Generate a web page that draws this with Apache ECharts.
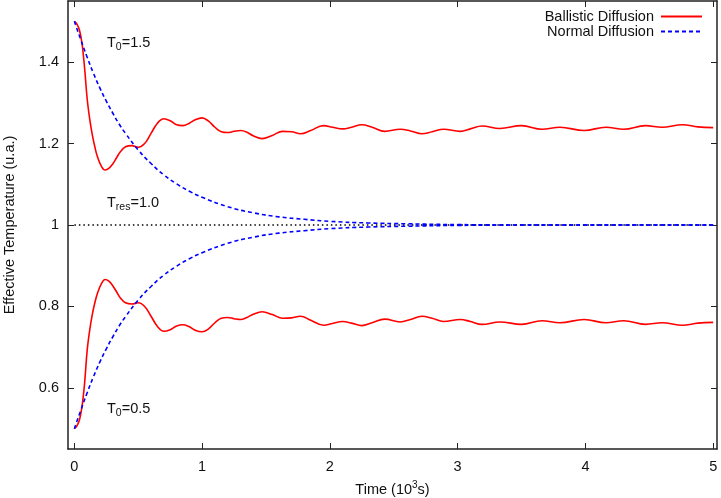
<!DOCTYPE html>
<html>
<head>
<meta charset="utf-8">
<script src="https://cdn.jsdelivr.net/npm/echarts@6/dist/echarts.min.js"></script>
<style>
html, body { margin: 0; padding: 0; background: #fff; }
#main { width: 721px; height: 498px; }
</style>
</head>
<body>
<div id="main"></div>
<script>
// time axis, 10^3 s
var ballisticT = [0, 0.02, 0.04, 0.06, 0.08, 0.10, 0.12, 0.14, 0.16, 0.18,
	0.21, 0.24, 0.27, 0.30, 0.33, 0.36, 0.40, 0.45, 0.50, 0.55,
	0.60, 0.65, 0.70, 0.75, 0.80, 0.85, 0.90, 0.95, 1.00, 1.05,
	1.10, 1.15, 1.20, 1.25, 1.30, 1.35, 1.40, 1.47, 1.55, 1.63,
	1.70, 1.77, 1.85, 1.95, 2.02, 2.10, 2.17, 2.25, 2.33, 2.43,
	2.55, 2.63, 2.72, 2.80, 2.89, 3.02, 3.10, 3.19, 3.33, 3.50,
	3.66, 3.80, 3.99, 4.16, 4.30, 4.47, 4.60, 4.76, 4.88, 5.00];
// T0 = 1.5
var ballisticHot = [1.500, 1.493, 1.478, 1.445, 1.385, 1.310, 1.260, 1.222, 1.192, 1.168,
	1.145, 1.135, 1.139, 1.150, 1.165, 1.180, 1.192, 1.195, 1.191, 1.200,
	1.225, 1.250, 1.261, 1.256, 1.246, 1.244, 1.250, 1.259, 1.263, 1.255,
	1.240, 1.229, 1.227, 1.230, 1.232, 1.228, 1.219, 1.212, 1.220, 1.230,
	1.229, 1.224, 1.232, 1.244, 1.240, 1.236, 1.240, 1.246, 1.240, 1.230,
	1.235, 1.231, 1.224, 1.229, 1.235, 1.230, 1.236, 1.243, 1.237, 1.244,
	1.235, 1.240, 1.232, 1.240, 1.235, 1.244, 1.240, 1.246, 1.241, 1.239];
// T0 = 0.5
var ballisticCold = [0.500, 0.507, 0.522, 0.555, 0.612, 0.692, 0.742, 0.780, 0.809, 0.832,
	0.855, 0.866, 0.862, 0.851, 0.836, 0.821, 0.809, 0.806, 0.809, 0.800,
	0.776, 0.751, 0.739, 0.743, 0.752, 0.755, 0.750, 0.741, 0.738, 0.745,
	0.760, 0.771, 0.773, 0.770, 0.768, 0.773, 0.781, 0.787, 0.780, 0.771,
	0.772, 0.776, 0.766, 0.754, 0.758, 0.763, 0.759, 0.753, 0.760, 0.769,
	0.762, 0.768, 0.776, 0.771, 0.763, 0.768, 0.763, 0.756, 0.762, 0.756,
	0.765, 0.760, 0.768, 0.760, 0.765, 0.756, 0.760, 0.754, 0.759, 0.761];

var normalT = [0, 0.05, 0.1, 0.15, 0.2, 0.25, 0.3, 0.35, 0.4, 0.5,
	0.6, 0.7, 0.8, 0.9, 1.0, 1.2, 1.4, 1.6, 1.8, 2.0,
	2.3, 2.6, 3.0, 3.5, 4.0, 5.0];
var normalHot = [1.500, 1.455, 1.412, 1.372, 1.336, 1.304, 1.275, 1.248, 1.225, 1.184,
	1.151, 1.123, 1.101, 1.083, 1.068, 1.045, 1.030, 1.020, 1.014, 1.009,
	1.005, 1.003, 1.001, 1.000, 1.000, 1.000];
var normalCold = [0.500, 0.545, 0.588, 0.628, 0.664, 0.696, 0.725, 0.752, 0.775, 0.816,
	0.849, 0.877, 0.899, 0.917, 0.932, 0.955, 0.970, 0.980, 0.986, 0.991,
	0.995, 0.997, 0.999, 1.000, 1.000, 1.000];

var resT = [0, 5];
var resValue = [1.0, 1.0];

var xTicks = [0, 1, 2, 3, 4, 5];
var yTicks = [0.6, 0.8, 1, 1.2, 1.4];

function pairs(xs, ys){
	var out = [];
	for(var i = 0; i < xs.length; i++){
		out.push([xs[i], ys[i]]);
	}
	return out;
}

var FONT = '"Liberation Sans", Arial, sans-serif';
var FS = 14.5;
var AXIS_COLOR = '#222';

var myChart = echarts.init(document.getElementById('main'));

function frameAxis(pos, ticks, showLabel){
	return {
		type: 'value',
		position: pos,
		axisLine: { show: true, onZero: false, lineStyle: { color: AXIS_COLOR, width: 1.5 } },
		axisTick: { show: true, inside: true, length: 6, customValues: ticks,
			lineStyle: { color: AXIS_COLOR, width: 1 } },
		axisLabel: { show: showLabel, customValues: ticks, margin: 9,
			fontFamily: FONT, fontSize: FS, color: '#111' },
		splitLine: { show: false }
	};
}

var xBottom = frameAxis('bottom', xTicks, true);
xBottom.min = -0.05; xBottom.max = 5.03;
xBottom.axisLabel.margin = 10;
xBottom.name = 'Time (10{sup|3}s)';
xBottom.nameLocation = 'middle';
xBottom.nameGap = 31;
xBottom.nameTextStyle = { fontFamily: FONT, fontSize: FS, color: '#111',
	rich: { sup: { fontFamily: FONT, fontSize: 10, color: '#111', padding: [0, 0, 9, 0] } } };
var xTop = frameAxis('top', xTicks, false);
xTop.min = -0.05; xTop.max = 5.03;

var yLeft = frameAxis('left', yTicks, true);
yLeft.min = 0.45; yLeft.max = 1.55;
yLeft.name = 'Effective Temperature (u.a.)';
yLeft.nameLocation = 'middle';
yLeft.nameGap = 51;
yLeft.nameTextStyle = { fontFamily: FONT, fontSize: FS, color: '#111' };
var yRight = frameAxis('right', yTicks, false);
yRight.min = 0.45; yRight.max = 1.55;

function label(text, left, top){
	return {
		type: 'text', left: left, top: top,
		style: {
			text: text, font: FS + 'px ' + FONT, fill: '#111',
			rich: { sub: { fontFamily: FONT, fontSize: 10.5, fill: '#111', padding: [10, 0, 0, 0] } }
		}
	};
}

function curve(name, xs, ys, color, type, smooth){
	return {
		name: name,
		type: 'line',
		symbol: 'none',
		smooth: smooth,
		color: color,
		itemStyle: { opacity: 0 },
		lineStyle: { color: color, width: 1.6, type: type },
		data: pairs(xs, ys)
	};
}

var option = {
	animation: false,
	grid: { left: 68, right: 4, top: 1, bottom: 49, containLabel: false, outerBoundsMode: 'none' },
	legend: {
		data: ['Ballistic Diffusion', 'Normal Diffusion'],
		orient: 'vertical',
		align: 'right',
		right: 13,
		top: 4,
		itemWidth: 41,
		itemHeight: 10,
		itemGap: 0,
		itemStyle: { opacity: 0 },
		textStyle: { fontFamily: FONT, fontSize: FS, color: '#111', lineHeight: 14, padding: [0, 2, 0, 0] }
	},
	xAxis: [xBottom, xTop],
	yAxis: [yLeft, yRight],
	graphic: [
		label('T{sub|0}=1.5', 107, 35),
		label('T{sub|res}=1.0', 107, 195),
		label('T{sub|0}=0.5', 107, 401)
	],
	series: [
		{
			name: 'T_res',
			type: 'line',
			symbol: 'none',
			lineStyle: { color: '#000', width: 1.5, type: [1.5, 3] },
			data: pairs(resT, resValue)
		},
		curve('Ballistic Diffusion', ballisticT, ballisticHot, '#ff0000', 'solid', 0.4),
		curve('Ballistic Diffusion', ballisticT, ballisticCold, '#ff0000', 'solid', 0.4),
		curve('Normal Diffusion', normalT, normalHot, '#0000ff', [4, 3], true),
		curve('Normal Diffusion', normalT, normalCold, '#0000ff', [4, 3], true)
	]
};
myChart.setOption(option);
</script>
</body>
</html>
